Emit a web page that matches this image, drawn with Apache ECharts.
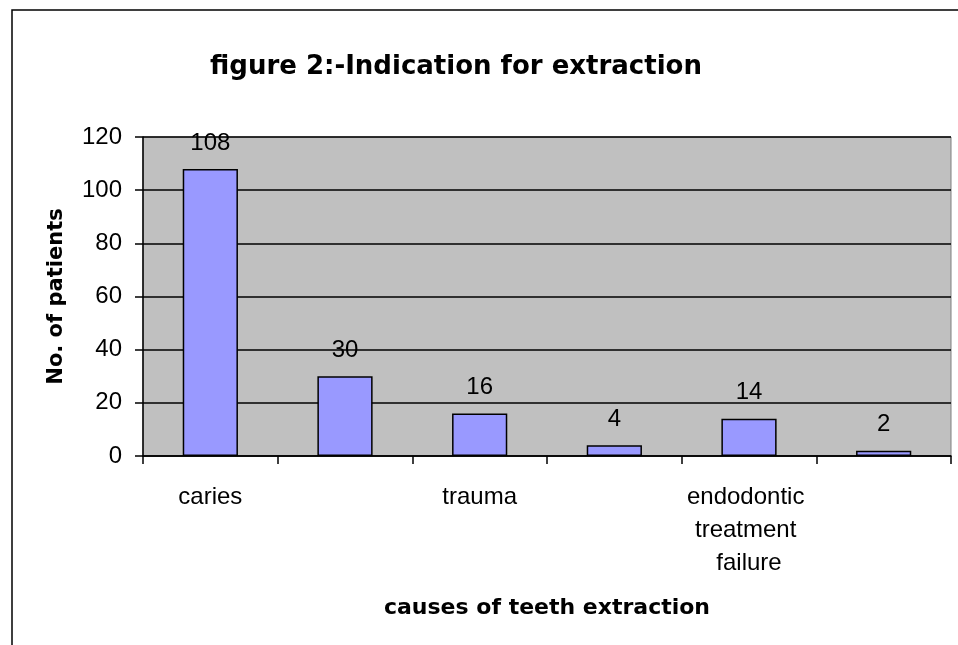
<!DOCTYPE html>
<html>
<head>
<meta charset="utf-8">
<script src="https://cdn.jsdelivr.net/npm/echarts@6/dist/echarts.min.js"></script>
<style>
  html, body { margin: 0; padding: 0; background: #fff; }
  #chart { width: 958px; height: 645px; }
</style>
</head>
<body>
<div id="chart"></div>
<script>
// categories: Excel skipped every other label, so those are left blank
const causes = ['caries', '', 'trauma', '', 'endodontic treatment failure', ''];
const patients = [108, 30, 16, 4, 14, 2];
const yTicks = { min: 0, max: 120, step: 20 };

const FONT = '"Liberation Sans", Arial, sans-serif';
const BOLD_FONT = '"DejaVu Sans", "Liberation Sans", Arial, sans-serif';

const chart = echarts.init(document.getElementById('chart'));

const option = {
  animation: false,
  backgroundColor: '#fff',
  textStyle: { fontFamily: FONT },
  title: {
    text: 'figure 2:-Indication for extraction',
    left: 451,
    top: 49,
    textAlign: 'center',
    textStyle: { fontFamily: BOLD_FONT, fontSize: 26, fontWeight: 'bold', color: '#000' }
  },
  // outer chart frame (only left and top edges are visible in the picture)
  graphic: [{
    type: 'rect',
    shape: { x: 12, y: 10, width: 1200, height: 1000 },
    style: { fill: 'none', stroke: '#000', lineWidth: 1.5 },
    silent: true
  }],
  grid: {
    left: 143,
    right: 7,
    top: 137,
    bottom: 189,
    show: true,
    backgroundColor: '#C0C0C0',
    borderColor: '#808080',
    borderWidth: 1
  },
  xAxis: {
    type: 'category',
    data: causes,
    name: 'causes of teeth extraction',
    nameLocation: 'middle',
    nameGap: 141,
    nameTextStyle: { fontFamily: BOLD_FONT, fontSize: 22, fontWeight: 'bold', color: '#000' },
    axisLine: { lineStyle: { color: '#000', width: 1.5 } },
    axisTick: { show: true, interval: 0, length: 8, lineStyle: { color: '#000', width: 1.5 } },
    axisLabel: {
      interval: 0,
      margin: 25,
      fontFamily: FONT,
      fontSize: 24,
      color: '#000',
      width: 140,
      overflow: 'break',
      lineHeight: 33
    }
  },
  yAxis: {
    type: 'value',
    min: yTicks.min,
    max: yTicks.max,
    interval: yTicks.step,
    name: 'No. of patients',
    nameLocation: 'middle',
    nameGap: 76,
    nameTextStyle: { fontFamily: BOLD_FONT, fontSize: 21, fontWeight: 'bold', color: '#000' },
    axisLine: { show: true, lineStyle: { color: '#000', width: 1.5 } },
    axisTick: { show: true, length: 8, lineStyle: { color: '#000', width: 1.5 } },
    axisLabel: { margin: 21, fontFamily: FONT, fontSize: 24, color: '#000' },
    splitLine: { show: true, lineStyle: { color: '#000', width: 1.5 } }
  },
  series: [{
    type: 'bar',
    data: patients,
    barWidth: '41%',
    itemStyle: { color: '#9999FF', borderColor: '#000', borderWidth: 1.5 },
    label: {
      show: true,
      position: 'top',
      distance: 14,
      fontFamily: FONT,
      fontSize: 24,
      color: '#000'
    }
  }]
};

chart.setOption(option);
</script>
</body>
</html>
